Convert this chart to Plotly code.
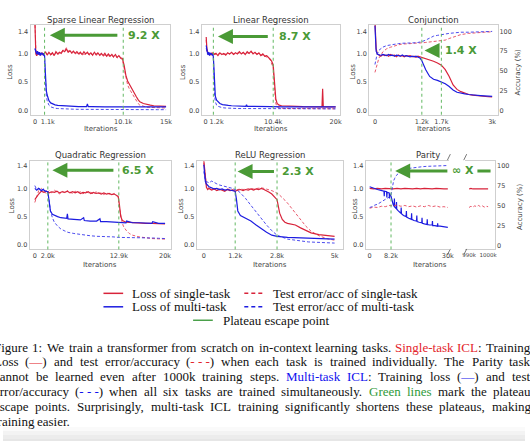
import re
import plotly.graph_objects as go

W, H = 530, 442
def PX(v): return v / W
def PY(v): return 1 - v / H

RED = "#d8233a"
RED_D = "rgba(228,60,82,0.85)"
BLUE = "#1c1ce0"
BLUE_D = "rgba(45,45,235,0.85)"
VGREEN = "#62b862"
AGREEN = "#4a9a36"
TXT = "#444444"
FRAME = "#cfcfcf"
CAP_RED = "#e3242b"
CAP_BLUE = "#1010ee"
CAP_GREEN = "#2f9a3a"

# ---------------- data ----------------
loss_ticks = [0, 0.5, 1.0, 1.4]
loss_ticktext = ["0.0", "0.5", "1.0", "1.4"]
acc_ticks = [0, 25, 50, 75, 100]
acc_ticktext = ["0", "25", "50", "75", "100"]

titles = ["Sparse Linear Regression", "Linear Regression", "Conjunction",
          "Quadratic Regression", "ReLU Regression", "Parity"]
speedups = ["9.2 X", "8.7 X", "1.4 X", "6.5 X", "2.3 X", "∞ X"]

p1_ticks = [0, 1.1, 10.1, 15]; p1_ticktext = ["0", "\u20031.1k", "10.1k", "15k"]; p1_escape = [1.1, 10.1]
p2_ticks = [0, 1.2, 10.4, 20]; p2_ticktext = ["0", "\u20031.2k", "10.4k", "20k"]; p2_escape = [1.2, 10.4]
p3_ticks = [0, 1.2, 1.7, 3]; p3_ticktext = ["0", "1.2k", "1.7k", "3k"]; p3_escape = [1.2, 1.7]
p4_ticks = [0, 2.0, 12.9, 20]; p4_ticktext = ["0", "2.0k", "12.9k", "20k"]; p4_escape = [2.0, 12.9]
p5_ticks = [0, 1.2, 2.8, 5]; p5_ticktext = ["0", "1.2k", "2.8k", "5k"]; p5_escape = [1.2, 2.8]
p6_ticks = [0, 8.2, 30]; p6_ticktext = ["0", "8.2k", "30k"]; p6_escape = [8.2]
p6r_ticks = [990, 1000]; p6r_ticktext = ["990k", "1000k"]

# Panel 1: Sparse Linear Regression (x in thousands of iterations)
p1_red_x = [0, 0.05, 0.1,
            0.2, 0.4, 0.6, 0.8, 1.0, 1.2, 1.4, 1.6, 1.8, 2.0,
            2.2, 2.4, 2.6, 2.8, 3.0, 3.2, 3.4, 3.6, 3.8, 4.0,
            4.2, 4.4, 4.6, 4.8, 5.0, 5.2, 5.4, 5.6, 5.8, 6.0,
            6.2, 6.4, 6.6, 6.8, 7.0, 7.2, 7.4, 7.6, 7.8, 8.0,
            8.2, 8.4, 8.6, 8.8, 9.0, 9.2, 9.4, 9.6, 9.8, 10.0,
            10.2, 10.4, 10.6, 10.8, 11.0, 11.2, 11.4, 11.6, 11.8, 12.0,
            12.4, 12.8, 13.2, 13.6, 14.0, 14.5, 15.0]
p1_red_loss = [1.55, 1.15, 1.0,
               0.97, 1.03, 0.98, 1.02, 0.99, 1.04, 0.98, 1.03, 0.99, 1.02,
               0.97, 1.04, 1.0, 1.03, 1.01, 1.06, 1.04, 1.09, 1.03, 1.06,
               1.02, 1.05, 1.01, 1.04, 1.0, 1.03, 0.99, 1.04, 1.0, 1.03,
               0.99, 1.02, 0.98, 1.03, 0.99, 1.02, 0.98, 1.01, 0.97, 1.01,
               0.96, 1.0, 0.96, 0.99, 0.95, 0.99, 0.94, 0.97, 0.93, 0.92,
               0.8, 0.62, 0.52, 0.46, 0.42, 0.36, 0.3, 0.24, 0.19, 0.15,
               0.12, 0.1, 0.09, 0.08, 0.075, 0.07, 0.07]
p1_red_test = [1.6, 1.3, 1.08,
               1.0, 0.99, 1.01, 0.98, 1.0, 1.02, 0.99, 1.01, 0.98, 1.0,
               0.99, 1.01, 0.98, 1.02, 1.03, 1.07, 1.06, 1.11, 1.05, 1.04,
               1.01, 1.03, 1.0, 1.02, 0.99, 1.01, 0.98, 1.0, 0.99, 1.01,
               0.98, 1.0, 0.97, 1.0, 0.98, 0.99, 0.97, 0.99, 0.96, 0.98,
               0.96, 0.97, 0.95, 0.97, 0.94, 0.96, 0.93, 0.94, 0.92, 0.9,
               0.75, 0.58, 0.45, 0.38, 0.33, 0.27, 0.21, 0.16, 0.12, 0.09,
               0.07, 0.055, 0.05, 0.045, 0.04, 0.04, 0.04]
p1_blue_x = [0, 0.05, 0.1, 0.2, 0.3, 0.4, 0.5, 0.6, 0.7, 0.8,
             0.9, 1.0, 1.1, 1.15, 1.2, 1.25, 1.3, 1.4, 1.5, 1.6,
             1.8, 2.0, 2.3, 2.6, 3.0, 3.5, 4.0, 4.5, 5.0, 5.5,
             5.9, 6.0, 6.1, 6.5, 7.0, 8.0, 9.0, 10.0, 11.0, 12.0,
             13.0, 14.0, 15.0]
p1_blue_loss = [1.1, 1.06, 1.04, 1.0, 1.05, 0.99, 1.03, 0.98, 1.02, 0.99,
                1.01, 0.98, 0.97, 0.8, 0.6, 0.45, 0.35, 0.27, 0.21, 0.17,
                0.13, 0.11, 0.095, 0.085, 0.08, 0.075, 0.07, 0.07, 0.065, 0.065,
                0.065, 0.11, 0.065, 0.065, 0.06, 0.06, 0.06, 0.06, 0.06, 0.06,
                0.06, 0.06, 0.06]
p1_blue_test = [1.08, 1.04, 1.02, 0.99, 1.01, 0.98, 1.0, 0.97, 0.99, 0.98,
                0.99, 0.97, 0.95, 0.72, 0.5, 0.35, 0.25, 0.17, 0.12, 0.09,
                0.06, 0.045, 0.035, 0.03, 0.025, 0.02, 0.02, 0.018, 0.016, 0.015,
                0.015, 0.015, 0.015, 0.014, 0.013, 0.012, 0.012, 0.011, 0.011, 0.01,
                0.01, 0.01, 0.01]

# Panel 2: Linear Regression
p2_red_x = [0.1, 0.2, 0.4,
            0.7, 1.0, 1.3, 1.6, 1.9, 2.2, 2.5, 2.8, 3.1, 3.4,
            3.7, 4.0, 4.3, 4.6, 4.9, 5.2, 5.5, 5.8, 6.1, 6.4,
            6.7, 7.0, 7.3, 7.6, 7.9, 8.2, 8.5, 8.8, 9.1, 9.4, 9.7,
            10.0, 10.2, 10.4, 10.6, 10.8, 11.0, 11.3, 11.7, 12.2, 13.0,
            14.0, 15.0, 16.0, 17.0, 17.9, 18.0, 18.1, 19.0, 20.0]
p2_red_loss = [1.3, 1.1, 1.0,
               0.98, 1.02, 0.99, 1.01, 0.97, 1.02, 0.99, 1.01, 0.98, 1.02,
               1.0, 1.03, 0.99, 1.02, 1.0, 1.04, 1.0, 1.03, 0.99, 1.04,
               1.01, 1.05, 1.0, 1.03, 0.99, 1.02, 0.97, 1.0, 0.96, 0.97, 0.94,
               0.9, 0.86, 0.8, 0.5, 0.2, 0.12, 0.09, 0.08, 0.075, 0.07,
               0.07, 0.065, 0.065, 0.06, 0.06, 0.38, 0.06, 0.06, 0.06]
p2_red_test = [1.25, 1.05, 1.0,
               0.99, 1.0, 1.01, 0.99, 1.0, 1.01, 1.0, 0.99, 1.0, 1.01,
               1.0, 1.02, 1.0, 1.01, 1.01, 1.02, 1.01, 1.02, 1.0, 1.02,
               1.01, 1.03, 1.01, 1.02, 1.0, 1.0, 0.98, 0.98, 0.96, 0.95, 0.93,
               0.88, 0.82, 0.75, 0.4, 0.12, 0.06, 0.04, 0.035, 0.03, 0.03,
               0.03, 0.03, 0.03, 0.025, 0.025, 0.025, 0.025, 0.025, 0.025]
p2_blue_x = [0.1, 0.2, 0.3, 0.4, 0.5, 0.6, 0.7, 0.8, 0.9, 1.0, 1.1, 1.2, 1.3, 1.4, 1.5,
             1.7, 1.9, 2.2, 2.6, 3.0, 3.5, 4.0, 5.0, 6.0, 6.2,
             6.3, 6.4, 7.0, 8.0, 10.0, 12.0, 14.0, 16.0, 18.0, 20.0]
p2_blue_loss = [1.15, 1.05, 1.02, 0.99, 1.03, 0.98, 1.02, 0.99, 1.01, 0.98, 1.0, 0.95, 0.6, 0.35, 0.25,
                0.18, 0.15, 0.12, 0.1, 0.09, 0.085, 0.08, 0.075, 0.07, 0.07,
                0.1, 0.07, 0.07, 0.065, 0.065, 0.06, 0.06, 0.06, 0.06, 0.06]
p2_blue_test = [1.1, 1.03, 1.0, 0.98, 1.01, 0.97, 1.0, 0.98, 0.99, 0.97, 0.98, 0.92, 0.5, 0.25, 0.15,
                0.09, 0.07, 0.055, 0.045, 0.04, 0.035, 0.03, 0.03, 0.03, 0.03,
                0.03, 0.03, 0.03, 0.028, 0.025, 0.025, 0.025, 0.025, 0.025, 0.025]

# Panel 3: Conjunction (loss on left axis, accuracy % on right axis)
p3_x = [0, 0.03, 0.06,
        0.1, 0.15, 0.2, 0.25, 0.3, 0.35, 0.4, 0.45, 0.5, 0.55, 0.6, 0.65,
        0.7, 0.75, 0.8, 0.85, 0.9, 0.95, 1.0, 1.05, 1.1, 1.15, 1.2,
        1.3, 1.4, 1.5, 1.6, 1.7, 1.8, 1.9, 2.0, 2.1, 2.2, 2.3, 2.4,
        2.5, 2.6, 2.7, 2.8, 2.9, 3.0]
p3_red_loss = [1.6, 1.1, 1.0,
               0.98, 0.96, 0.99, 0.97, 0.98, 0.96, 0.99, 0.97, 0.98, 0.95, 0.98, 0.96,
               0.97, 0.95, 0.97, 0.96, 0.97, 0.95, 0.96, 0.94, 0.96, 0.95, 0.94,
               0.92, 0.9, 0.87, 0.84, 0.8, 0.72, 0.6, 0.45, 0.37, 0.33, 0.3, 0.28,
               0.27, 0.26, 0.25, 0.245, 0.24, 0.235]
p3_blue_loss = [1.5, 1.05, 1.0,
                0.99, 0.97, 0.99, 0.98, 0.97, 0.99, 0.97, 0.98, 0.96, 0.98, 0.97, 0.96,
                0.98, 0.96, 0.97, 0.96, 0.95, 0.96, 0.95, 0.96, 0.94, 0.93, 0.88,
                0.72, 0.6, 0.55, 0.53, 0.5, 0.47, 0.42, 0.36, 0.32, 0.3, 0.29, 0.28,
                0.27, 0.265, 0.26, 0.255, 0.25, 0.245]
p3_acc_x = [0, 0.05, 0.1, 0.2, 0.3, 0.4, 0.5, 0.6, 0.7, 0.8, 0.9, 1.0, 1.1, 1.2,
            1.3, 1.4, 1.5, 1.6, 1.7, 1.8, 1.9, 2.0, 2.1, 2.2, 2.4, 2.6, 2.8, 3.0]
p3_red_acc = [48, 58, 66, 74, 78, 80, 82, 83, 84, 84, 84.5, 85, 85, 85.5,
              86, 86.5, 87, 87.5, 88, 89, 91, 93, 95, 96, 97.5, 98.5, 99, 99.5]
p3_blue_acc = [58, 70, 76, 80, 82, 83, 84, 84.5, 85, 85, 85.5, 85.5, 86, 87,
               89, 92, 94, 95, 96, 97, 97.5, 98, 98.5, 99, 99, 99.5, 99.5, 100]

# Panel 4: Quadratic Regression
p4_red_x = [0, 0.3, 0.6, 1.0,
            1.4, 1.8, 2.2, 2.6, 3.0, 3.4, 3.8, 4.2, 4.6, 5.0,
            5.4, 5.8, 6.2, 6.6, 7.0, 7.4, 7.8, 8.2, 8.6, 9.0,
            9.4, 9.8, 10.2, 10.6, 11.0, 11.4, 11.8, 12.2, 12.6,
            12.8, 13.0, 13.2, 13.4, 13.6, 14.0, 14.5, 15.0, 16.0, 17.0, 18.0, 19.0, 20.0]
p4_red_loss = [0.8, 0.86, 0.9, 0.95,
               0.93, 0.95, 0.92, 0.94, 0.93, 0.95, 0.92, 0.94, 0.93, 0.95,
               0.92, 0.94, 0.92, 0.94, 0.91, 0.93, 0.92, 0.94, 0.91, 0.93,
               0.91, 0.92, 0.9, 0.92, 0.9, 0.91, 0.89, 0.9, 0.88,
               0.86, 0.7, 0.5, 0.44, 0.42, 0.4, 0.395, 0.39, 0.385, 0.38, 0.38, 0.375, 0.37]
p4_red_test = [0.75, 0.88, 0.96, 1.0,
               0.95, 0.9, 0.96, 0.92, 0.97, 0.93, 0.9, 0.95, 0.92, 0.96,
               0.93, 0.91, 0.95, 0.92, 0.94, 0.9, 0.95, 0.92, 0.93, 0.9,
               0.94, 0.91, 0.92, 0.89, 0.92, 0.9, 0.89, 0.91, 0.87,
               0.84, 0.65, 0.5, 0.4, 0.33, 0.26, 0.2, 0.17, 0.14, 0.12, 0.11, 0.105, 0.1]
p4_blue_x = [0, 0.3, 0.6, 1.0, 1.3, 1.6, 2.0, 2.2, 2.4, 2.7,
             3.0, 3.5, 4.0, 4.5, 4.9, 5.0, 5.1, 6.0, 7.0, 7.5,
             7.6, 8.5, 9.5, 10.0, 10.1, 11.0, 12.0, 13.0, 14.0, 14.1,
             15.0, 16.0, 17.0, 18.0, 18.1, 19.0, 20.0]
p4_blue_loss = [1.0, 0.97, 1.0, 0.96, 0.98, 0.95, 0.94, 0.75, 0.6, 0.54,
                0.52, 0.5, 0.48, 0.47, 0.47, 0.55, 0.46, 0.45, 0.44, 0.48,
                0.43, 0.42, 0.42, 0.46, 0.41, 0.41, 0.4, 0.4, 0.39, 0.42,
                0.39, 0.39, 0.38, 0.38, 0.41, 0.38, 0.38]
p4_blue_test = [1.05, 0.98, 1.0, 0.97, 0.99, 0.96, 0.93, 0.78, 0.6, 0.48,
                0.4, 0.33, 0.28, 0.25, 0.23, 0.23, 0.22, 0.2, 0.18, 0.17,
                0.17, 0.16, 0.15, 0.15, 0.15, 0.14, 0.14, 0.13, 0.13, 0.13,
                0.13, 0.125, 0.12, 0.12, 0.12, 0.115, 0.11]

# Panel 5: ReLU Regression
p5_red_x = [0, 0.03, 0.06, 0.1, 0.15, 0.2,
            0.3, 0.4, 0.5, 0.6, 0.7, 0.8, 0.9, 1.0, 1.1, 1.2,
            1.3, 1.4, 1.5, 1.6, 1.7, 1.8, 1.9, 2.0, 2.1, 2.2,
            2.3, 2.4, 2.5, 2.6, 2.7, 2.8,
            2.85, 2.9, 3.0, 3.1, 3.2, 3.3,
            3.5, 3.7, 3.9, 4.1, 4.4, 4.7, 5.0]
p5_red_loss = [1.5, 1.3, 1.1, 1.02, 0.98, 1.0,
               0.97, 0.99, 0.96, 0.98, 0.97, 0.95, 0.98, 0.96, 0.97, 0.95,
               0.97, 0.98, 0.96, 0.98, 0.97, 0.99, 0.97, 0.99, 0.98, 1.0,
               0.98, 0.96, 0.93, 0.9, 0.85, 0.8,
               0.68, 0.56, 0.45, 0.4, 0.38, 0.37,
               0.35, 0.3, 0.25, 0.21, 0.18, 0.16, 0.15]
p5_red_test = [1.45, 1.35, 1.2, 1.06, 1.02, 1.0,
               0.99, 1.0, 0.98, 0.99, 0.98, 0.97, 0.99, 0.98, 0.98, 0.97,
               0.98, 0.99, 0.98, 0.99, 0.99, 1.0, 0.99, 1.0, 1.0, 1.01,
               1.0, 0.99, 0.98, 0.96, 0.94, 0.92,
               0.9, 0.88, 0.84, 0.79, 0.74, 0.68,
               0.56, 0.44, 0.33, 0.24, 0.16, 0.11, 0.08]
p5_blue_x = [0, 0.03, 0.06, 0.1, 0.2, 0.3, 0.4, 0.5, 0.6, 0.7,
             0.8, 0.9, 1.0, 1.1, 1.2, 1.25, 1.3, 1.4, 1.6, 1.8,
             2.0, 2.2, 2.4, 2.6, 2.8, 3.2, 3.6, 4.0, 4.5, 5.0]
p5_blue_loss = [1.42, 1.2, 1.12, 1.08, 1.03, 1.01, 0.99, 1.0, 0.98, 0.99,
                0.97, 0.98, 0.97, 0.96, 0.95, 0.8, 0.6, 0.52, 0.47, 0.42,
                0.35, 0.28, 0.22, 0.17, 0.15, 0.13, 0.125, 0.12, 0.11, 0.1]
p5_blue_test = [1.3, 1.18, 1.14, 1.12, 1.1, 1.13, 1.1, 1.08, 1.06, 1.05,
                1.03, 1.02, 1.01, 1.0, 0.98, 0.97, 0.96, 0.92, 0.82, 0.7,
                0.58, 0.46, 0.35, 0.25, 0.17, 0.1, 0.07, 0.05, 0.04, 0.03]

# Panel 6: Parity (broken x axis: 0-30k | 990k-1000k)
p6_red_x = [0, 1.5, 3, 4.5, 6, 7.5, 9, 10.5, 12, 13.5, 15, 16.5, 18, 19.5, 21,
            22.5, 24, 25.5, 27, 28.5, 30]
p6_red_loss = [1.0, 0.99, 1.0, 0.99, 1.0, 0.99, 0.99, 1.0, 0.99, 1.0, 0.99, 0.99, 1.0, 0.99, 1.0,
               0.99, 0.99, 1.0, 0.99, 0.99, 0.99]
p6_red_acc = [47, 48.5, 48, 49.5, 49, 50.5, 50, 51, 49.5, 50.5, 49, 50, 48.5, 50, 49,
              50.5, 49, 50, 48.5, 49, 48]
p6r_red_x = [990, 991, 992, 993, 994, 995, 996, 997, 998, 999, 1000]
p6r_red_loss = [0.99, 1.0, 0.99, 0.99, 1.0, 0.99, 1.0, 0.99, 0.99, 1.0, 0.99]
p6r_red_acc = [48, 49.5, 48.5, 50, 49, 50.5, 49, 50, 48.5, 49.5, 49]
p6_blue_x = [0, 1, 2, 3, 4, 5, 5.5, 5.6, 5.7, 6.5, 6.6, 6.7, 7.5, 7.6, 7.7,
             8.2, 8.6, 9.0, 9.4, 9.5, 9.6, 10.2, 10.3, 10.4, 11, 12, 12.1, 12.2,
             13, 14, 14.1, 14.2, 15, 16, 16.1, 16.2, 17, 18, 18.1, 18.2,
             19, 20, 20.1, 20.2, 21, 22, 22.1, 22.2, 23, 24, 24.1, 24.2,
             25, 26, 26.1, 26.2, 27, 28, 29, 30]
p6_blue_loss = [1.03, 1.01, 1.0, 0.98, 0.97, 0.96, 0.95, 0.86, 0.95, 0.94, 0.84, 0.93, 0.92, 0.82, 0.9,
                0.86, 0.78, 0.72, 0.68, 0.82, 0.67, 0.64, 0.76, 0.63, 0.6, 0.56, 0.66, 0.55,
                0.52, 0.5, 0.6, 0.49, 0.47, 0.45, 0.56, 0.45, 0.43, 0.42, 0.52, 0.41,
                0.4, 0.39, 0.48, 0.38, 0.37, 0.36, 0.45, 0.36, 0.35, 0.35, 0.42, 0.34,
                0.34, 0.33, 0.38, 0.33, 0.33, 0.32, 0.32, 0.31]
p6_blue_acc_x = [0, 1, 2, 3, 4, 5, 6, 7, 7.5, 8, 8.2, 8.5, 8.8, 9.2, 9.6, 10, 11, 12, 13, 14,
                 16, 18, 20, 22, 25, 28, 30]
p6_blue_acc = [48, 49, 51, 52, 54, 56, 58, 60, 61, 62, 64, 70, 76, 81, 84, 87, 90, 93, 95, 96,
               97, 98, 98.5, 99, 99.5, 100, 100]

# ---------------- figure ----------------
fig = go.Figure()

def add_line(x, y, xa, ya, color, dash=None, width=1.2):
    assert len(x) == len(y), (len(x), len(y))
    fig.add_trace(go.Scatter(x=x, y=y, xaxis=xa, yaxis=ya, mode="lines",
                             line=dict(color=color, width=width, dash=dash),
                             showlegend=False, hoverinfo="skip"))

DASH = "3px,2px"
add_line(p1_red_x, p1_red_test, "x", "y", RED_D, DASH, 1)
add_line(p1_red_x, p1_red_loss, "x", "y", RED)
add_line(p1_blue_x, p1_blue_test, "x", "y", BLUE_D, DASH, 1)
add_line(p1_blue_x, p1_blue_loss, "x", "y", BLUE)
add_line(p2_red_x, p2_red_test, "x2", "y2", RED_D, DASH, 1)
add_line(p2_red_x, p2_red_loss, "x2", "y2", RED)
add_line(p2_blue_x, p2_blue_test, "x2", "y2", BLUE_D, DASH, 1)
add_line(p2_blue_x, p2_blue_loss, "x2", "y2", BLUE)
add_line(p3_acc_x, p3_red_acc, "x3", "y4", RED_D, DASH, 1)
add_line(p3_x, p3_red_loss, "x3", "y3", RED)
add_line(p3_acc_x, p3_blue_acc, "x3", "y4", BLUE_D, DASH, 1)
add_line(p3_x, p3_blue_loss, "x3", "y3", BLUE)
add_line(p4_red_x, p4_red_test, "x4", "y5", RED_D, DASH, 1)
add_line(p4_red_x, p4_red_loss, "x4", "y5", RED)
add_line(p4_blue_x, p4_blue_test, "x4", "y5", BLUE_D, DASH, 1)
add_line(p4_blue_x, p4_blue_loss, "x4", "y5", BLUE)
add_line(p5_red_x, p5_red_test, "x5", "y6", RED_D, DASH, 1)
add_line(p5_red_x, p5_red_loss, "x5", "y6", RED)
add_line(p5_blue_x, p5_blue_test, "x5", "y6", BLUE_D, DASH, 1)
add_line(p5_blue_x, p5_blue_loss, "x5", "y6", BLUE)
add_line(p6_red_x, p6_red_acc, "x6", "y8", RED_D, DASH, 1)
add_line(p6_red_x, p6_red_loss, "x6", "y7", RED)
add_line(p6r_red_x, p6r_red_acc, "x7", "y8", RED_D, DASH, 1)
add_line(p6r_red_x, p6r_red_loss, "x7", "y7", RED)
add_line(p6_blue_acc_x, p6_blue_acc, "x6", "y8", BLUE_D, DASH, 1)
add_line(p6_blue_x, p6_blue_loss, "x6", "y7", BLUE)

tickfont = dict(family="DejaVu Sans", size=6.5, color=TXT)

def xaxis(dom, rng, tv, tt, anchor, mirror=True, fsize=6.5):
    return dict(domain=[PX(dom[0]), PX(dom[1])], range=rng, tickvals=tv, ticktext=tt,
                anchor=anchor, showgrid=False, zeroline=False, showline=True, mirror=mirror,
                linecolor=FRAME, linewidth=1, ticks="", tickangle=0,
                tickfont=dict(family="DejaVu Sans", size=fsize, color=TXT), fixedrange=True)

def yaxis(dom, rng, anchor, tv, tt, side="left", mirror=True, showline=True, overlaying=None):
    d = dict(domain=[PY(dom[1]), PY(dom[0])], range=rng, anchor=anchor, side=side,
             showgrid=False, zeroline=False, showline=showline, mirror=mirror,
             linecolor=FRAME, linewidth=1, ticks="", tickfont=tickfont,
             tickvals=tv, ticktext=tt, fixedrange=True)
    if overlaying:
        d["overlaying"] = overlaying
    return d

ROW1 = (25, 115)
ROW2 = (161.7, 250)
R1 = [-0.08, 1.515]
R2 = [-0.083, 1.48]

layout_axes = dict(
    xaxis=xaxis((28, 170), [-0.5, 15.5], p1_ticks, p1_ticktext, "y"),
    xaxis2=xaxis((201.7, 341.7), [-0.6, 20.6], p2_ticks, p2_ticktext, "y2"),
    xaxis3=xaxis((371.7, 503), [-0.15, 3.16], p3_ticks, p3_ticktext, "y3"),
    xaxis4=xaxis((27, 170.5), [-0.8, 20.9], p4_ticks, p4_ticktext, "y5"),
    xaxis5=xaxis((196.7, 345.7), [-0.27, 5.34], p5_ticks, p5_ticktext, "y6"),
    xaxis6=xaxis((368.3, 452.7), [-1.5, 30.4], p6_ticks, p6_ticktext, "y7"),
    xaxis7=xaxis((469.3, 499.3), [988, 1003.5], p6r_ticks, p6r_ticktext, "y7", fsize=5.5),
    yaxis=yaxis(ROW1, R1, "x", loss_ticks, loss_ticktext),
    yaxis2=yaxis(ROW1, R1, "x2", loss_ticks, loss_ticktext),
    yaxis3=yaxis(ROW1, R1, "x3", loss_ticks, loss_ticktext),
    yaxis4=yaxis(ROW1, [R1[0] * 100 / 1.4, R1[1] * 100 / 1.4], "x3", acc_ticks, acc_ticktext,
                 side="right", mirror=False, showline=False, overlaying="y3"),
    yaxis5=yaxis(ROW2, R2, "x4", loss_ticks, loss_ticktext),
    yaxis6=yaxis(ROW2, R2, "x5", loss_ticks, loss_ticktext),
    yaxis7=yaxis(ROW2, R2, "x6", loss_ticks, loss_ticktext, mirror=False),
    yaxis8=yaxis(ROW2, [-4, 105.2], "x7", acc_ticks, acc_ticktext,
                 side="right", mirror=False, showline=True, overlaying="y7"),
)

for xs, xr, yr in [(p1_escape, "x", "y"), (p2_escape, "x2", "y2"), (p3_escape, "x3", "y3"),
                   (p4_escape, "x4", "y5"), (p5_escape, "x5", "y6"), (p6_escape, "x6", "y7")]:
    for v in xs:
        fig.add_shape(type="line", xref=xr, yref=yr + " domain", x0=v, x1=v, y0=0, y1=1,
                      line=dict(color=VGREEN, width=1, dash="dot"))

annotations = []
def ann(x, y, text, size=7, color=TXT, family="DejaVu Sans", xanchor="center",
        yanchor="middle", angle=0, xref="paper", yref="paper"):
    annotations.append(dict(x=x, y=y, xref=xref, yref=yref, text=text, showarrow=False,
                            font=dict(family=family, size=size, color=color),
                            xanchor=xanchor, yanchor=yanchor, textangle=angle, borderpad=0))

title_pos = [(99, 20), (271.7, 20), (437.3, 20), (98.8, 155.5), (271.2, 155.5), (432, 155.5)]
for t, (x, y) in zip(titles, title_pos):
    ann(PX(x), PY(y), t, size=8.5, color="#333333")
for x, y in [(99, 129.5), (271.7, 129.5), (437.3, 129.5), (98.8, 265.5), (271.2, 265.5), (434, 265.5)]:
    ann(PX(x), PY(y), "Iterations", size=7)
for x, y in [(7, 72), (183, 72), (355, 72), (9, 206), (180, 206), (356.5, 206)]:
    ann(PX(x), PY(y), "Loss", size=7, angle=-90)
for x, y in [(522.5, 72), (524.5, 207)]:
    ann(PX(x), PY(y), "Accuracy (%)", size=7, angle=-90)

arrows = [("x", "y", 1.7, 9.6, 1.33, 10.5), ("x2", "y2", 1.9, 9.8, 1.31, 11.2),
          ("x3", "y3", 1.27, 1.64, 1.06, 1.78), ("x4", "y5", 2.7, 12.3, 1.32, 13.3),
          ("x5", "y6", 1.29, 2.74, 1.30, 2.94), ("x6", "y7", 9.8, 30.4, 1.31, None)]
for (xr, yr, hx, tx, yy, txtx), lab in zip(arrows, speedups):
    annotations.append(dict(x=hx, y=yy, ax=tx, ay=yy, xref=xr, yref=yr, axref=xr, ayref=yr,
                            text="", showarrow=True, arrowhead=2, arrowsize=1,
                            arrowwidth=3, arrowcolor=AGREEN))
    if txtx is not None:
        ann(txtx, yy, "<b>%s</b>" % lab, size=11, color=AGREEN, xanchor="left",
            xref=xr, yref=yr)
    else:
        ann(PX(467.5), yy, "<b>%s</b>" % lab, size=11, color=AGREEN, xref="paper", yref=yr)
fig.add_shape(type="line", xref="x7", yref="y7", x0=994.4, x1=1001.3, y0=1.31, y1=1.31,
              line=dict(color=AGREEN, width=3))

for bx in (452.7, 469.3):
    for by in (157.5, 252.5):
        fig.add_shape(type="line", xref="paper", yref="paper",
                      x0=PX(bx - 1.5), x1=PX(bx + 1.5), y0=PY(by + 3), y1=PY(by - 3),
                      line=dict(color="#555555", width=0.8))

SERIF = "Liberation Serif, Times New Roman, serif"
legend_items = [
    (102, 122, 294, RED, "solid", 130, "Loss of single-task"),
    (245, 265, 294, RED, "dash", 273, "Test error/acc of single-task"),
    (102, 122, 307.5, BLUE, "solid", 130, "Loss of multi-task"),
    (245, 265, 307.5, BLUE, "dash", 273, "Test error/acc of multi-task"),
    (193, 213, 321, "#4aa04a", "solid", 222, "Plateau escape point"),
]
for x0, x1, y, col, dash, tx, label in legend_items:
    fig.add_shape(type="line", xref="paper", yref="paper", x0=PX(x0), x1=PX(x1),
                  y0=PY(y), y1=PY(y), line=dict(color=col, width=1.5,
                                                dash="4px,3px" if dash == "dash" else "solid"))
    ann(PX(tx), PY(y), label, size=13, color="#111111", family=SERIF, xanchor="left")

caption_lines = [
    ["Figure", "1:", "We", "train", "a", "transformer", "from", "scratch", "on", "in-context",
     "learning", "tasks.", "<r>Single-task</r>", "<r>ICL</r>:", "Training"],
    ["Loss", "(<r>—</r>)", "and", "test", "error/accuracy", "(<r>- - -</r>)", "when", "each",
     "task", "is", "trained", "individually.", "The", "Parity", "task"],
    ["cannot", "be", "learned", "even", "after", "1000k", "training", "steps.",
     "<b>Multi-task</b>", "<b>ICL</b>:", "Training", "loss", "(<b>—</b>)", "and", "test"],
    ["error/accuracy", "(<b>- - -</b>)", "when", "all", "six", "tasks", "are", "trained",
     "simultaneously.", "<g>Green</g>", "<g>lines</g>", "mark", "the", "plateau"],
    ["escape", "points.", "Surprisingly,", "multi-task", "ICL", "training", "significantly",
     "shortens", "these", "plateaus,", "making"],
    ["training", "easier."],
]
TW = {' ': 250, '!': 333, '(': 333, ')': 333, ',': 250, '-': 333, '.': 250, '/': 278,
      ':': 278, ';': 278, '—': 1000,
      'A': 722, 'B': 667, 'C': 667, 'D': 722, 'E': 611, 'F': 556, 'G': 722, 'H': 722,
      'I': 333, 'J': 389, 'K': 722, 'L': 611, 'M': 889, 'N': 722, 'O': 722, 'P': 556,
      'Q': 722, 'R': 667, 'S': 556, 'T': 611, 'U': 722, 'V': 722, 'W': 944, 'X': 722,
      'Y': 722, 'Z': 611,
      'a': 444, 'b': 500, 'c': 444, 'd': 500, 'e': 444, 'f': 333, 'g': 500, 'h': 500,
      'i': 278, 'j': 278, 'k': 500, 'l': 278, 'm': 778, 'n': 500, 'o': 500, 'p': 500,
      'q': 500, 'r': 333, 's': 389, 't': 278, 'u': 500, 'v': 500, 'w': 722, 'x': 500,
      'y': 500, 'z': 444}
CAP_FS = 13
CAP_X0, CAP_X1 = -10, 534
cap_y = [348, 362.8, 377.6, 392.4, 407.2, 422]

def plain(w):
    return re.sub(r"</?[rbg]>", "", w)

def to_html(w):
    for tag, col in (("r", CAP_RED), ("b", CAP_BLUE), ("g", CAP_GREEN)):
        w = w.replace("<%s>" % tag, "<span style='color:%s'>" % col).replace("</%s>" % tag, "</span>")
    return w

def tw(s):
    return sum(TW.get(c, 500) for c in s) / 1000 * CAP_FS

for i, words in enumerate(caption_lines):
    widths = [tw(plain(w)) for w in words]
    if i < len(caption_lines) - 1:
        gap = (CAP_X1 - CAP_X0 - sum(widths)) / (len(words) - 1)
    else:
        gap = 0.25 * CAP_FS
    x = CAP_X0
    for w, wd in zip(words, widths):
        ann(PX(x), PY(cap_y[i]), to_html(w), size=CAP_FS, color="#111111", family=SERIF,
            xanchor="left")
        x += wd + gap

for y0, y1, c in [(428, 432, "#fafafa"), (432, 436, "#f3f3f3"), (436, 440, "#ececec"),
                  (440, 442, "#e6e6e6")]:
    fig.add_shape(type="rect", xref="paper", yref="paper", x0=0, x1=1, y0=PY(y1), y1=PY(y0),
                  line=dict(width=0), fillcolor=c, layer="below")

fig.update_layout(width=W, height=H, autosize=False,
                  margin=dict(l=0, r=0, t=0, b=0, pad=0),
                  paper_bgcolor="white", plot_bgcolor="white",
                  showlegend=False, annotations=annotations, **layout_axes)

fig.write_html("out.html", include_plotlyjs=True, config={"displayModeBar": False},
               post_script="document.body.style.margin='0px';document.body.style.overflow='hidden';")
